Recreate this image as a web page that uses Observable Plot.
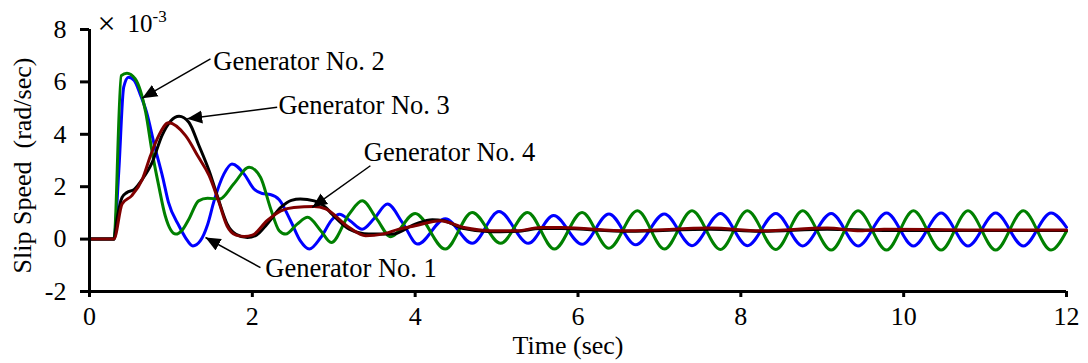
<!DOCTYPE html>
<html>
<head>
<meta charset="utf-8">
<script src="https://cdn.jsdelivr.net/npm/d3@7"></script>
<script src="https://cdn.jsdelivr.net/npm/@observablehq/plot@0.6"></script>
<style>
  html, body { margin: 0; padding: 0; background: #fff; }
  svg text { white-space: pre; }
</style>
</head>
<body>
<div id="chart"></div>
<script>
// ---- data ----
const xTicks = [0, 2, 4, 6, 8, 10, 12];
const yTicks = [-2, 0, 2, 4, 6, 8];

const gen1T = [0,0.30,0.36,0.42,0.48,0.55,0.62,0.70,0.80,0.90,0.97,1.10,1.18,1.27,1.36,1.45,1.53,1.65,1.75,1.90,2.02,2.12,2.22,2.33,2.47,2.59,2.70,2.84,2.98,3.07,3.20,3.35,3.50,3.66,3.85,4.03,4.37,4.70,5.03,5.39,5.70,6.05,6.38,6.71,7.06,7.40,7.75,8.08,8.43,8.76,9.11,9.44,9.79,10.12,10.46,10.79,11.13,11.47,11.81,12.00];
const gen1V = [0,0,2.6,5.8,6.18,6.05,5.55,4.85,3.55,2.35,1.40,0.50,0.05,-0.26,-0.07,0.55,1.46,2.48,2.87,2.48,1.91,1.74,1.70,1.50,0.70,-0.07,-0.38,0.06,0.75,0.95,0.70,0.38,0.80,1.34,0.60,-0.19,0.78,-0.16,1.05,-0.16,0.90,-0.20,0.96,-0.22,0.96,-0.25,0.98,-0.25,0.98,-0.26,0.98,-0.26,1.00,-0.26,1.00,-0.26,1.00,-0.26,1.00,0.45];

const gen2T = [0,0.30,0.39,0.46,0.56,0.69,0.77,0.85,0.93,1.06,1.14,1.22,1.34,1.45,1.60,1.77,1.96,2.10,2.22,2.33,2.41,2.55,2.68,2.84,2.97,3.19,3.35,3.53,3.70,4.00,4.37,4.70,5.05,5.38,5.71,6.05,6.38,6.73,7.06,7.40,7.75,8.08,8.43,8.76,9.11,9.44,9.79,10.12,10.46,10.79,11.13,11.47,11.81,12.00];
const gen2V = [0,0,6.24,6.33,6.12,4.84,3.31,2.04,0.89,0.19,0.35,0.76,1.46,1.56,1.53,2.10,2.74,2.36,1.21,0.32,0.19,0.57,0.83,0.32,-0.13,0.96,1.46,0.76,0.09,0.98,-0.38,1.02,-0.16,1.02,-0.38,1.02,-0.35,1.08,-0.38,1.08,-0.40,1.08,-0.40,1.08,-0.42,1.08,-0.42,1.08,-0.42,1.08,-0.42,1.08,-0.42,0.30];

const gen3T = [0,0.30,0.34,0.40,0.46,0.55,0.65,0.77,0.89,1.00,1.10,1.22,1.34,1.47,1.58,1.69,1.80,1.94,2.05,2.18,2.35,2.48,2.59,2.76,2.90,2.98,3.19,3.43,3.72,4.00,4.21,4.35,4.60,4.93,5.25,5.54,5.79,6.61,7.63,8.24,9.06,9.76,10.78,12.00];
const gen3V = [0,0,0.8,1.59,1.78,1.90,2.29,2.93,3.95,4.52,4.69,4.46,3.60,2.60,1.55,0.58,0.18,0.06,0.15,0.57,1.21,1.48,1.53,1.46,1.21,0.95,0.38,0.19,0.19,0.57,0.74,0.70,0.40,0.28,0.30,0.40,0.40,0.30,0.38,0.30,0.38,0.33,0.33,0.33];

const gen4T = [0,0.30,0.40,0.52,0.65,0.75,0.85,0.97,1.18,1.34,1.47,1.58,1.69,1.80,1.90,2.00,2.18,2.35,2.51,2.76,2.90,3.19,3.39,3.60,3.80,4.00,4.31,4.60,4.93,5.25,5.54,5.79,6.61,7.63,8.24,9.06,9.47,9.76,10.78,12.00];
const gen4V = [0,0,1.34,1.66,2.29,3.19,3.95,4.44,3.95,3.12,2.42,1.50,0.50,0.15,0.10,0.15,0.70,1.08,1.21,1.24,1.15,0.44,0.13,0.19,0.38,0.51,0.70,0.44,0.32,0.32,0.44,0.44,0.32,0.42,0.32,0.42,0.32,0.38,0.35,0.35];

// annotations: label, text anchor, arrow start, arrow tip (data units)
const annoLabel = ["Generator No. 1", "Generator No. 2", "Generator No. 3", "Generator No. 4"];
const annoTextT = [2.16, 1.52, 2.32, 3.37];
const annoTextV = [-1.14, 6.78, 5.10, 3.30];
const annoFromT = [2.10, 1.486, 2.305, 3.45];
const annoFromV = [-1.09, 6.88, 5.03, 2.80];
const annoTipT  = [1.425, 0.647, 1.20, 2.735];
const annoTipV  = [0.06, 5.38, 4.59, 1.21];

// ---- tables built from the arrays ----
const series = [
  {name: "Generator No. 1", t: gen1T, v: gen1V, color: "#0000ff"},
  {name: "Generator No. 2", t: gen2T, v: gen2V, color: "#008000"},
  {name: "Generator No. 3", t: gen3T, v: gen3V, color: "#000000"},
  {name: "Generator No. 4", t: gen4T, v: gen4V, color: "#800000"}
];
const annos = annoLabel.map((label, i) => ({
  label, tx: annoTextT[i], ty: annoTextV[i],
  x1: annoFromT[i], y1: annoFromV[i], x2: annoTipT[i], y2: annoTipV[i]
}));

function filledHead(color, context) {
  const ns = "http://www.w3.org/2000/svg";
  const doc = context && context.document ? context.document : document;
  const m = doc.createElementNS(ns, "marker");
  m.setAttribute("viewBox", "-15 -7 16 14");
  m.setAttribute("markerUnits", "userSpaceOnUse");
  m.setAttribute("markerWidth", "16");
  m.setAttribute("markerHeight", "14");
  m.setAttribute("refX", "0");
  m.setAttribute("refY", "0");
  m.setAttribute("orient", "auto");
  const p = doc.createElementNS(ns, "path");
  p.setAttribute("d", "M0,0L-15,-6.5L-15,6.5Z");
  p.setAttribute("fill", "#000");
  p.setAttribute("stroke", "none");
  m.appendChild(p);
  return m;
}

const lineMarks = series.map(s =>
  Plot.line(s.t.map((t, i) => ({t, v: s.v[i]})), {
    x: "t", y: "v", stroke: s.color, strokeWidth: 3, curve: "monotone-x"
  })
);

const chart = Plot.plot({
  width: 1088, height: 363, marginLeft: 89, marginRight: 22, marginTop: 29, marginBottom: 72,
  style: {fontFamily: "'Liberation Serif', 'Times New Roman', serif", fontSize: "26px", background: "#fff", color: "#000"},
  x: {domain: [0, 12]},
  y: {domain: [-2, 8]},
  marks: [
    Plot.axisX({ticks: xTicks, tickSize: 6, tickPadding: 9, strokeWidth: 3, fontSize: 26, label: null, tickFormat: d => String(d)}),
    Plot.axisY({ticks: yTicks, tickSize: 9, tickPadding: 14, strokeWidth: 3, fontSize: 26, label: null, tickFormat: d => String(d)}),
    ...lineMarks,
    Plot.ruleX([0], {stroke: "#000", strokeWidth: 3}),
    Plot.ruleY([-2], {stroke: "#000", strokeWidth: 3}),
    Plot.link(annos, {x1: "x1", y1: "y1", x2: "x2", y2: "y2", stroke: "#000", strokeWidth: 1.5, markerEnd: filledHead}),
    Plot.text(annos, {x: "tx", y: "ty", text: "label", textAnchor: "start", lineAnchor: "middle", fontSize: 26.5, fill: "#000"}),
    Plot.text(["Time (sec)"], {frameAnchor: "bottom", textAnchor: "middle", dx: -10, dy: 54, lineAnchor: "middle", fontSize: 26, fill: "#000"}),
    Plot.text(["Slip Speed  (rad/sec)"], {frameAnchor: "left", textAnchor: "middle", rotate: -90, dx: -67, dy: 5, lineAnchor: "middle", fontSize: 26, fill: "#000"}),
    Plot.text(["\u00d7"], {frameAnchor: "top-left", dx: 8, dy: -6, textAnchor: "start", lineAnchor: "middle", fontSize: 32, fill: "#000"}),
    Plot.text(["10"], {frameAnchor: "top-left", dx: 38, dy: -5.5, textAnchor: "start", lineAnchor: "middle", fontSize: 25, fill: "#000"}),
    Plot.text(["-3"], {frameAnchor: "top-left", dx: 63, dy: -12.5, textAnchor: "start", lineAnchor: "middle", fontSize: 17, fill: "#000"})
  ]
});
document.getElementById("chart").appendChild(chart);
</script>
</body>
</html>
